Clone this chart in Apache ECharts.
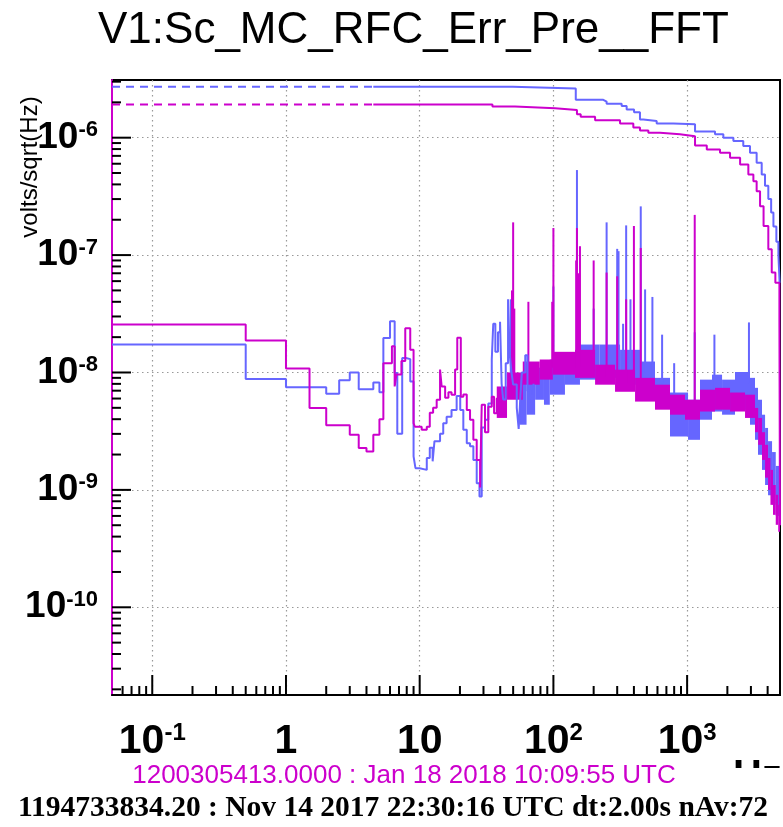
<!DOCTYPE html>
<html><head><meta charset="utf-8">
<script src="https://cdn.jsdelivr.net/npm/echarts@6/dist/echarts.min.js"></script>
<style>html,body{margin:0;padding:0;background:#fff}#c{width:783px;height:827px}</style>
</head><body><div id="c"></div>
<script>
// ---- axis ranges & tick labels ----
const X_MIN = 0.05, X_MAX = 4950;
const Y_MIN = 1.79e-11, Y_MAX = 3.1e-6;
const xTickValues = [0.1, 1, 10, 100, 1000];
const xTickLabels = [['10','-1'], ['1',''], ['10',''], ['10','2'], ['10','3']];
const yTickValues = [1e-10, 1e-9, 1e-8, 1e-7, 1e-6];
const yTickLabels = [['10','-10'], ['10','-9'], ['10','-8'], ['10','-7'], ['10','-6']];

const BLUE = '#6666ff', MAG = '#cc00cc';

// ---- spectrum, low-frequency part: [bin start (Hz), volts/sqrt(Hz)] ----
const blueLow = [[0.05,1.73e-8],[0.5,8.8e-9],[1.0,7.5e-9],[2.0,6.6e-9],[2.5,8.6e-9],[3.0,1.0e-8],[3.5,7.2e-9],[4.5,8.2e-9],[5.0,6.8e-9],[5.35,1.97e-8],[6.0,2.73e-8],[6.5,9.9e-9],[6.8,3.0e-9],[7.4,1.33e-8],[7.9,1.3e-8],[8.5,8.4e-9],[9.0,1.93e-9],[9.3,1.53e-9],[10.0,1.48e-9],[11.3,1.87e-9],[11.9,2.28e-9],[12.5,1.75e-9],[12.9,2.6e-9],[14.2,3.0e-9],[15.0,3.7e-9],[15.9,4.2e-9],[17.3,4.8e-9],[18.9,6.3e-9],[20.1,4.8e-9],[21.2,3.25e-9],[22.5,2.5e-9],[23.8,2.35e-9],[25.2,1.8e-9],[26.7,1.14e-9],[28.0,8.8e-10],[29.1,3.4e-9],[30.8,3.96e-9],[32.6,5.45e-9],[34.6,1.29e-8],[35.5,2.6e-8],[36.8,1.5e-8],[38.5,2.2e-8],[39.9,2.7e-8],[41.0,8e-9],[42.1,5.9e-9],[44.0,1.2e-8],[45.8,4.2e-8],[47.0,1.5e-8],[48.6,1.0e-8],[50.0,7.9e-9],[53.2,5.0e-9],[55.0,3.3e-9],[56.3,5.5e-9],[58.0,1.0e-8],[61.6,1.4e-8],[64.0,7e-9],[67.0,6.0e-9],[71.0,8e-9]];
const magLow = [[0.05,2.56e-8],[0.5,1.87e-8],[1.0,1.08e-8],[1.5,4.98e-9],[2.0,3.56e-9],[3.0,2.95e-9],[3.5,2.27e-9],[4.0,2.12e-9],[4.5,2.95e-9],[5.0,4.0e-9],[5.35,1.2e-8],[6.2,1.67e-8],[6.5,7.6e-9],[6.7,9.6e-9],[7.3,1.25e-8],[7.8,2.38e-8],[8.5,1.56e-8],[9.0,3.7e-9],[9.2,3.45e-9],[10.35,3.25e-9],[11.3,3.45e-9],[11.9,4.55e-9],[12.6,5.0e-9],[13.4,5.86e-9],[14.2,1.06e-8],[14.6,7.6e-9],[15.5,6.1e-9],[16.4,6.8e-9],[17.3,6.47e-9],[18.4,1.06e-8],[19.1,1.98e-8],[20.3,6.2e-9],[21.2,6.5e-9],[22.5,4.8e-9],[23.8,3.96e-9],[25.2,2.67e-9],[26.7,1.8e-9],[28.3,1.05e-9],[29.1,5.3e-9],[30.8,3.1e-9],[32.6,5.1e-9],[34.6,6.2e-9],[36.0,4.5e-9],[37.7,6.0e-9],[40.0,5e-9]];

// ---- dense high-frequency part: [f start, f end, low, high] ----
const blueBand = [[56,63,3.59e-9,9.58e-9],[63,73,4.37e-9,1.1e-8],[73,85,5.86e-9,1.1e-8],[85,94,5.31e-9,1.24e-8],[94,122,6.47e-9,1.29e-8],[122,158,7.87e-9,1.42e-8],[158,222,8.69e-9,1.73e-8],[222,315,9.0e-9,1.73e-8],[315,444,7.87e-9,1.56e-8],[444,575,6.2e-9,1.24e-8],[575,745,5.0e-9,9.0e-9],[745,1016,2.85e-9,6.75e-9],[1016,1248,2.67e-9,5.86e-9],[1248,1535,3.96e-9,8.69e-9],[1535,1825,4.65e-9,9.58e-9],[1825,2281,4.37e-9,8.69e-9],[2281,2953,4.82e-9,1.01e-8],[2953,3219,3.59e-9,9.0e-9],[3219,3390,2.67e-9,7.4e-9],[3390,3631,1.99e-9,5.86e-9],[3631,3828,1.48e-9,4.37e-9],[3828,4029,1.1e-9,3.37e-9],[4029,4317,9e-10,2.6e-9],[4317,4600,7.5e-10,2.1e-9],[4600,4950,6.0e-10,1.6e-9]];
const magBand = [[37.7,45,4.1e-9,7.6e-9],[45,59,5.86e-9,1.0e-8],[59,79,7.87e-9,1.24e-8],[79,99,8.69e-9,1.29e-8],[99,145,9.58e-9,1.5e-8],[145,205,9.0e-9,1.56e-8],[205,289,7.87e-9,1.165e-8],[289,408,6.85e-9,1.057e-8],[408,575,5.65e-9,9.0e-9],[575,745,4.82e-9,7.87e-9],[745,964,4.37e-9,6.47e-9],[964,1248,3.96e-9,5.86e-9],[1248,1617,4.65e-9,7.14e-9],[1617,2094,4.82e-9,7.4e-9],[2094,2711,4.65e-9,6.75e-9],[2711,3219,4.1e-9,6.47e-9],[3219,3400,3.1e-9,4.99e-9],[3400,3631,2.42e-9,4.1e-9],[3631,3828,1.8e-9,3.1e-9],[3828,4029,1.27e-9,2.42e-9],[4029,4200,1.0e-9,1.87e-9],[4200,4389,7.46e-10,1.48e-9],[4389,4600,6.13e-10,1.1e-9],[4600,4800,5.04e-10,9.08e-10],[4800,4950,4.4e-10,7.46e-10]];

// ---- lines: [f, base, peak] ----
const blueSpikes = [[48,9e-9,4.2e-8],[100,1.2e-8,5.4e-8],[150,1.3e-8,5.3e-7],[200,1.3e-8,3.5e-8],[250,1.3e-8,1.9e-7],[300,1.3e-8,1.13e-7],[307,1.3e-8,1.08e-7],[332,1.2e-8,2.6e-8],[350,1.2e-8,1.79e-7],[377,1.2e-8,4.2e-8],[450,1.1e-8,2.6e-7],[485,1e-8,5.1e-8],[550,9e-9,4.4e-8],[650,8e-9,2.1e-8],[800,6e-9,1.2e-8],[1140,5e-9,2.2e-8],[1600,7e-9,2.1e-8],[2900,8e-9,2.67e-8]];
const magSpikes = [[49,9e-9,5e-8],[50,9e-9,1.9e-7],[51,9e-9,3.5e-8],[65,9e-9,4.0e-8],[98,1.1e-8,4e-8],[100,1.1e-8,1.7e-7],[148,1.1e-8,9e-8],[150,1.1e-8,1.7e-7],[153,1.1e-8,7e-8],[158,1.1e-8,1.19e-7],[200,1e-8,9.0e-8],[250,9e-9,7.1e-8],[300,8e-9,6.6e-8],[350,8e-9,4.2e-8],[400,7e-9,1.77e-7],[450,7e-9,1.15e-7],[1140,5e-9,2.2e-7]];

// ---- integrated RMS (from high f down) ----
const blueCumDash = [[0.05,2.72e-6],[4.5,2.72e-6]];
const blueCum = [[4.5,2.72e-6],[49.6,2.63e-6],[147,2.1e-6],[236,2.03e-6],[250,1.95e-6],[324,1.86e-6],[353,1.74e-6],[401,1.65e-6],[444,1.43e-6],[471,1.39e-6],[592,1.32e-6],[788,1.30e-6],[1146,1.13e-6],[1617,1.07e-6],[1866,1.0e-6],[2218,9.35e-7],[2630,8.5e-7],[2953,7.45e-7],[3311,6.12e-7],[3612,4.86e-7],[3823,3.9e-7],[4048,3.0e-7],[4250,2.3e-7],[4420,1.75e-7],[4650,1.3e-7],[4816,1.0e-7],[4920,5.8e-8],[4950,5.8e-8]];
const magCumDash = [[0.05,1.92e-6],[4.5,1.92e-6]];
const magCum = [[4.5,1.92e-6],[35,1.84e-6],[51.6,1.78e-6],[103,1.72e-6],[150,1.58e-6],[160,1.51e-6],[205,1.41e-6],[315,1.32e-6],[396,1.22e-6],[444,1.15e-6],[513,1.10e-6],[627,1.07e-6],[884,1.03e-6],[1146,8.6e-7],[1403,7.95e-7],[1762,7.45e-7],[2094,6.75e-7],[2490,5.9e-7],[2870,4.86e-7],[3130,4.26e-7],[3311,3.5e-7],[3511,2.6e-7],[3730,1.77e-7],[4048,1.12e-7],[4294,7.1e-8],[4570,5.8e-8],[4900,2.74e-8],[4950,5e-10]];

// ---- tick positions (1..9 x decades) ----
const xTickMarks = [], yTickMarks = [];
for (let d = -2; d <= 3; d++) for (let k = 1; k <= 9; k++) {
  const v = k * Math.pow(10, d);
  if (v > X_MIN * 1.001 && v < X_MAX) xTickMarks.push([v, Y_MIN, k === 1 ? 20 : 9]);
}
for (let d = -11; d <= -6; d++) for (let k = 1; k <= 9; k++) {
  const v = k * Math.pow(10, d);
  if (v > Y_MIN && v < Y_MAX) yTickMarks.push([X_MIN, v, k === 1 ? 19 : 9]);
}

function labelFor(values, labels) {
  return function (v) {
    for (let i = 0; i < values.length; i++) {
      if (Math.abs(Math.log10(v) - Math.log10(values[i])) < 1e-6) {
        const l = labels[i];
        return l[1] ? '{b|' + l[0] + '}{s|' + l[1] + '}' : '{b|' + l[0] + '}';
      }
    }
    return '';
  };
}

function bandRender(color) {
  return function (params, api) {
    const p0 = api.coord([api.value(0), api.value(3)]);
    const p1 = api.coord([api.value(1), api.value(2)]);
    return { type: 'rect', shape: { x: p0[0], y: p0[1], width: p1[0] - p0[0], height: p1[1] - p0[1] }, style: { fill: color } };
  };
}
function spikeRender(color) {
  return function (params, api) {
    const p0 = api.coord([api.value(0), api.value(1)]);
    const p1 = api.coord([api.value(0), api.value(2)]);
    return { type: 'line', shape: { x1: p0[0], y1: p0[1], x2: p1[0], y2: p1[1] }, style: { stroke: color, lineWidth: 2 } };
  };
}
const xTickRender = function (params, api) {
  const p = api.coord([api.value(0), api.value(1)]);
  const len = api.value(2);
  return { type: 'line', shape: { x1: p[0], y1: p[1], x2: p[0], y2: p[1] - len }, style: { stroke: '#000', lineWidth: 2 } };
};
const yTickRender = function (params, api) {
  const p = api.coord([api.value(0), api.value(1)]);
  const len = api.value(2);
  return { type: 'line', shape: { x1: p[0], y1: p[1], x2: p[0] + len, y2: p[1] }, style: { stroke: '#000', lineWidth: 2 } };
};

const gridLine = { show: true, showMinLine: false, showMaxLine: false, lineStyle: { color: '#999', type: [1.5, 3.5], width: 1.2 } };

function lineSeries(data, color, dashed) {
  return { type: 'line', data: data, step: 'end', showSymbol: false, symbol: 'none', clip: true,
    lineStyle: { color: color, width: 2, type: dashed ? [8, 6] : 'solid' }, silent: true };
}

const chart = echarts.init(document.getElementById('c'), null, { renderer: 'canvas' });
chart.setOption({
  animation: false,
  backgroundColor: '#fff',
  title: { text: 'V1:Sc_MC_RFC_Err_Pre__FFT', left: 93, top: 4,
    textStyle: { fontSize: 44, fontWeight: 'normal', fontFamily: 'Liberation Sans', color: '#000' } },
  grid: { left: 112, right: 3, top: 80, bottom: 132, show: true, borderColor: '#000', borderWidth: 2, outerBoundsMode: 'none', containLabel: false },
  xAxis: { type: 'log', logBase: 10, min: X_MIN, max: X_MAX,
    axisLine: { show: true, onZero: false, lineStyle: { color: '#000', width: 2 } },
    axisTick: { show: false }, splitLine: gridLine, minorTick: { show: false },
    axisLabel: { formatter: labelFor(xTickValues, xTickLabels), margin: 26, showMinLabel: false, showMaxLabel: false, hideOverlap: false,
      rich: { b: { fontSize: 41, fontWeight: 'bold', fontFamily: 'Liberation Sans', color: '#000', lineHeight: 41, verticalAlign: 'bottom', padding: [8, 0, 0, 0] },
              s: { fontSize: 24, fontWeight: 'bold', fontFamily: 'Liberation Sans', color: '#000', lineHeight: 24, verticalAlign: 'top' } } } },
  yAxis: { type: 'log', logBase: 10, min: Y_MIN, max: Y_MAX,
    axisLine: { show: true, lineStyle: { color: MAG, width: 2 } },
    axisTick: { show: false }, splitLine: gridLine, minorTick: { show: false },
    axisLabel: { formatter: labelFor(yTickValues, yTickLabels), margin: 14, showMinLabel: false, showMaxLabel: false, hideOverlap: false,
      rich: { b: { fontSize: 37, fontWeight: 'bold', fontFamily: 'Liberation Sans', color: '#000', lineHeight: 37, verticalAlign: 'bottom', padding: [7, 0, 0, 0] },
              s: { fontSize: 22, fontWeight: 'bold', fontFamily: 'Liberation Sans', color: '#000', lineHeight: 22, verticalAlign: 'top' } } } },
  series: [
    lineSeries(blueCumDash, BLUE, true),
    lineSeries(blueCum, BLUE, false),
    lineSeries(magCumDash, MAG, true),
    lineSeries(magCum, MAG, false),
    lineSeries(blueLow, BLUE, false),
    { type: 'custom', data: blueBand, renderItem: bandRender(BLUE), encode: { x: [0, 1], y: [2, 3] }, clip: true, silent: true },
    { type: 'custom', data: blueSpikes, renderItem: spikeRender(BLUE), encode: { x: 0, y: [1, 2] }, clip: true, silent: true },
    lineSeries(magLow, MAG, false),
    { type: 'custom', data: magBand, renderItem: bandRender(MAG), encode: { x: [0, 1], y: [2, 3] }, clip: true, silent: true },
    { type: 'custom', data: magSpikes, renderItem: spikeRender(MAG), encode: { x: 0, y: [1, 2] }, clip: true, silent: true },
    { type: 'custom', data: xTickMarks, renderItem: xTickRender, encode: { x: 0, y: 1 }, silent: true, z: 5 },
    { type: 'custom', data: yTickMarks, renderItem: yTickRender, encode: { x: 0, y: 1 }, silent: true, z: 5 }
  ],
  graphic: [
    { type: 'text', x: 30, y: 167, rotation: Math.PI / 2,
      style: { text: 'volts/sqrt(Hz)', fontSize: 24, fontFamily: 'Liberation Sans', fill: '#000', align: 'center', verticalAlign: 'middle' } },
    { type: 'text', left: 733, top: 757,
      style: { text: 'Hz', fontSize: 40, fontWeight: 'bold', fontFamily: 'Liberation Sans', fill: '#000' } },
    { type: 'rect', shape: { x: 725, y: 768, width: 58, height: 27 }, style: { fill: '#fff' } },
    { type: 'text', x: 404, y: 776,
      style: { text: '1200305413.0000 : Jan 18 2018 10:09:55 UTC', fontSize: 26, fontFamily: 'Liberation Sans', fill: MAG, align: 'center', verticalAlign: 'middle' } },
    { type: 'text', x: 393, y: 808,
      style: { text: '1194733834.20 : Nov 14 2017 22:30:16 UTC dt:2.00s nAv:72', fontSize: 29.5, fontWeight: 'bold', fontFamily: 'Liberation Serif', fill: '#000', align: 'center', verticalAlign: 'middle' } }
  ]
});
</script></body></html>
